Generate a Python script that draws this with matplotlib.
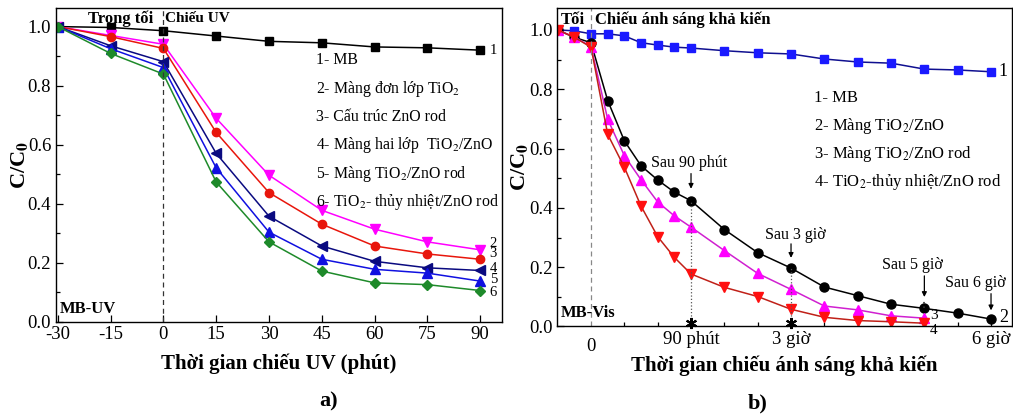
import matplotlib
matplotlib.use("Agg")
import matplotlib.pyplot as plt
from matplotlib.ticker import MultipleLocator, FixedLocator
import matplotlib.transforms as mtransforms

plt.rcParams['font.family'] = ['Liberation Serif', 'DejaVu Serif']
plt.rcParams['mathtext.fontset'] = 'stix'

# ---- panel a) data: UV irradiation ----
t_uv = [-30, -15, 0, 15, 30, 45, 60, 75, 90]
uv_mb = [1.0, 0.997, 0.986, 0.968, 0.950, 0.945, 0.931, 0.928, 0.920]
uv_tio2 = [1.0, 0.970, 0.940, 0.689, 0.496, 0.377, 0.313, 0.270, 0.243]
uv_znorod = [1.0, 0.966, 0.926, 0.641, 0.437, 0.330, 0.256, 0.229, 0.211]
uv_bilayer = [1.0, 0.935, 0.881, 0.570, 0.357, 0.256, 0.204, 0.182, 0.173]
uv_tio2_znorod = [1.0, 0.925, 0.861, 0.521, 0.303, 0.211, 0.177, 0.164, 0.137]
uv_hydro = [1.0, 0.909, 0.839, 0.473, 0.270, 0.171, 0.131, 0.125, 0.105]
uv_legend = ["1- MB", "2- Màng đơn lớp TiO$_2$", "3- Cấu trúc ZnO rod",
             "4- Màng hai lớp  TiO$_2$/ZnO", "5- Màng TiO$_2$/ZnO rod",
             "6- TiO$_2$- thủy nhiệt/ZnO rod"]
uv_xticks = [-30, -15, 0, 15, 30, 45, 60, 75, 90]

# ---- panel b) data: visible light ----
t_vis = [-30, -15, 0, 15, 30, 45, 60, 75, 90, 120, 150, 180, 210, 240, 270, 300, 330, 360]
vis_mb = [1.0, 0.997, 0.987, 0.987, 0.980, 0.957, 0.949, 0.942, 0.939, 0.930,
          0.923, 0.919, 0.902, 0.892, 0.888, 0.868, 0.865, 0.859]
vis_tio2_zno = [1.0, 0.975, 0.957, 0.762, 0.626, 0.542, 0.494, 0.453, 0.424, 0.327,
                0.249, 0.197, 0.133, 0.104, 0.075, 0.061, 0.045, 0.025]
t_vis_short = t_vis[:16]
vis_znorod = [1.0, 0.976, 0.944, 0.699, 0.576, 0.495, 0.420, 0.373, 0.335, 0.256,
              0.179, 0.125, 0.069, 0.056, 0.036, 0.028]
vis_hydro = [1.0, 0.975, 0.942, 0.648, 0.537, 0.406, 0.303, 0.233, 0.177, 0.132,
             0.101, 0.058, 0.031, 0.020, 0.016, 0.011]
vis_legend = ["1- MB", "2- Màng TiO$_2$/ZnO", "3- Màng TiO$_2$/ZnO rod",
              "4- TiO$_2$-thủy nhiệt/ZnO rod"]
vis_xticks = [90, 180, 360]
vis_xticklabels = ["90 phút", "3 giờ", "6 giờ"]

fig = plt.figure(figsize=(10.13, 4.15), dpi=100)
ax1 = fig.add_axes([0.0553, 0.2253, 0.4403, 0.7554])
ax2 = fig.add_axes([0.5502, 0.2133, 0.4484, 0.7667])

ms = 5.5
lw = 1.1
# panel a
ax1.plot(t_uv, uv_mb, '-s', color='black', ms=ms, lw=lw)
ax1.plot(t_uv, uv_tio2, '-v', color='#ff00ff', mfc='#ff00ff', ms=ms + 1, lw=lw)
ax1.plot(t_uv, uv_znorod, '-o', color='#e8160c', ms=ms + 0.5, lw=lw)
ax1.plot(t_uv, uv_bilayer, '-<', color='#0a0a80', ms=ms + 1, lw=lw)
ax1.plot(t_uv, uv_tio2_znorod, '-^', color='#1010e0', ms=ms + 1, lw=lw)
ax1.plot(t_uv, uv_hydro, '-D', color='#1e8a2a', ms=ms - 0.5, lw=lw)
ax1.axvline(0, color='#333333', ls=(0, (4, 3)), lw=0.9)

ax1.set_xlim(-30.5, 96.2)
ax1.set_ylim(0, 1.063)
ax1.set_xticks(uv_xticks)
ax1.set_xticklabels([str(v) for v in uv_xticks])
ax1.yaxis.set_major_locator(MultipleLocator(0.2))
ax1.yaxis.set_minor_locator(MultipleLocator(0.1))
ax1.set_yticklabels([f"{v:.1f}" for v in ax1.get_yticks()])

ax1.text(-2.8, 1.028, "Trong tối", ha='right', va='center', fontsize=12, fontweight='bold')
ax1.text(0.5, 1.028, "Chiếu UV", ha='left', va='center', fontsize=11, fontweight='bold')
ax1.text(-29.5, 0.044, "MB-UV", ha='left', va='center', fontsize=12, fontweight='bold')
for i, s in enumerate(uv_legend):
    ax1.text(0.583, 0.833 - i * 0.0905, s, transform=ax1.transAxes, ha='left', va='center', fontsize=11.4)
for lab, yv in zip(["1", "2", "3", "4", "5", "6"], [0.920, 0.264, 0.230, 0.180, 0.143, 0.100]):
    ax1.text(92.7, yv, lab, ha='left', va='center', fontsize=10.5, clip_on=False)

ax1.set_xlabel("Thời gian chiếu UV (phút)", fontsize=15, fontweight='bold', labelpad=7)
ax1.set_ylabel("C/C$_\\mathbf{0}$", fontsize=16, fontweight='bold', labelpad=-1.5)

# panel b
ax2.plot(t_vis, vis_mb, '-s', color='#101090', mfc='#1a1aff', mec='#1a1aff', ms=ms, lw=lw)
ax2.plot(t_vis, vis_tio2_zno, '-o', color='black', ms=ms + 1, lw=lw)
ax2.plot(t_vis_short, vis_znorod, '-^', color='#d020d0', mfc='#ff00ff', mec='#ff00ff', ms=ms + 1.5, lw=lw)
ax2.plot(t_vis_short, vis_hydro, '-v', color='#c02018', mfc='#ff1010', mec='#ff1010', ms=ms + 1.5, lw=lw)
ax2.axvline(0, color='#888888', ls=(0, (4, 3)), lw=0.9)

# dotted markers of reference times
ax2.plot([90, 90], [0, vis_tio2_zno[8]], ls=':', color='#555555', lw=0.9)
ax2.plot([180, 180], [0, vis_tio2_zno[11]], ls=':', color='#555555', lw=0.9)
ax2.plot([300, 300], [vis_tio2_zno[15], 0.09], ls=':', color='#333333', lw=1.2)
ax2.plot([90, 180], [0.012, 0.012], ls='none', marker=(6, 2, 0), color='black', ms=8, mew=1.5, clip_on=False)

arrow = dict(arrowstyle='-|>', color='black', lw=0.9, mutation_scale=7)
ax2.annotate("", xy=(90, 0.455), xytext=(90, 0.525), arrowprops=arrow)
ax2.text(88, 0.55, "Sau 90 phút", ha='center', va='center', fontsize=11.5)
ax2.annotate("", xy=(180, 0.222), xytext=(180, 0.288), arrowprops=arrow)
ax2.text(184, 0.309, "Sau 3 giờ", ha='center', va='center', fontsize=11.5)
ax2.annotate("", xy=(300, 0.09), xytext=(300, 0.18), arrowprops=arrow)
ax2.text(289, 0.207, "Sau 5 giờ", ha='center', va='center', fontsize=11.5)
ax2.annotate("", xy=(360, 0.045), xytext=(360, 0.12), arrowprops=arrow)
ax2.text(346, 0.146, "Sau 6 giờ", ha='center', va='center', fontsize=11.5)

ax2.set_xlim(-30.3, 378.5)
ax2.set_ylim(0, 1.073)
ax2.xaxis.set_major_locator(FixedLocator(vis_xticks))
ax2.set_xticklabels(vis_xticklabels)
ax2.xaxis.set_minor_locator(FixedLocator([v for v in range(30, 361, 30) if v not in vis_xticks]))
ax2.yaxis.set_major_locator(MultipleLocator(0.2))
ax2.yaxis.set_minor_locator(MultipleLocator(0.1))
ax2.set_yticklabels([f"{v:.1f}" for v in ax2.get_yticks()])
trans = mtransforms.blended_transform_factory(ax2.transData, ax2.transAxes)
ax2.text(0, -0.037, "0", transform=trans, ha='center', va='top', fontsize=13.5)

ax2.text(-27, 1.034, "Tối", ha='left', va='center', fontsize=12, fontweight='bold')
ax2.text(3.6, 1.034, "Chiếu ánh sáng khả kiến", ha='left', va='center', fontsize=12, fontweight='bold')
ax2.text(-27, 0.046, "MB-Vis", ha='left', va='center', fontsize=12, fontweight='bold')
for i, s in enumerate(vis_legend):
    ax2.text(0.565, 0.717 - i * 0.088, s, transform=ax2.transAxes, ha='left', va='center', fontsize=12)
ax2.text(367, 0.859, "1", ha='left', va='center', fontsize=13, clip_on=False)
ax2.text(367, 0.03, "2", ha='left', va='center', fontsize=13, clip_on=False)
ax2.text(305, 0.036, "3", ha='left', va='center', fontsize=11, clip_on=False)
ax2.text(305, -0.012, "4", ha='left', va='center', fontsize=11, clip_on=False)

ax2.set_xlabel("Thời gian chiếu ánh sáng khả kiến", fontsize=15, fontweight='bold', labelpad=5)
ax2.set_ylabel("C/C$_\\mathbf{0}$", fontsize=16, fontweight='bold', labelpad=-1)

for ax in (ax1, ax2):
    ax.tick_params(which='both', direction='in', labelsize=13.5, width=0.9)
    ax.tick_params(which='major', length=5)
    ax.tick_params(which='minor', length=3)
    for sp in ax.spines.values():
        sp.set_linewidth(1.0)

fig.text(0.324, 0.032, "a)", ha='center', va='center', fontsize=16, fontweight='bold')
fig.text(0.748, 0.028, "b)", ha='center', va='center', fontsize=16, fontweight='bold')

fig.savefig("out.png", dpi=100)
